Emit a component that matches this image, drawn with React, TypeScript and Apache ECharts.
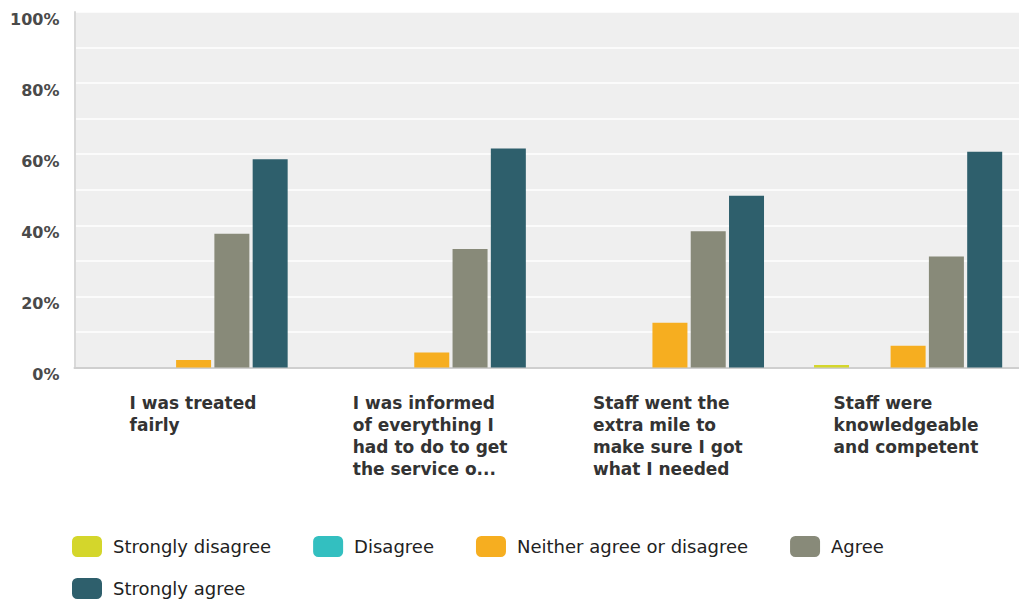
import React, { useEffect, useRef } from "react";
import * as echarts from "echarts";

const categories = [
  "I was treated\nfairly",
  "I was informed\nof everything I\nhad to do to get\nthe service o...",
  "Staff went the\nextra mile to\nmake sure I got\nwhat I needed",
  "Staff were\nknowledgeable\nand competent",
];
const seriesNames = [
  "Strongly disagree",
  "Disagree",
  "Neither agree or disagree",
  "Agree",
  "Strongly agree",
];
const stronglyDisagree = [0, 0, 0, 0.7];
const disagree = [0, 0, 0, 0];
const neither = [2.1, 4.2, 12.6, 6.1];
const agree = [37.6, 33.3, 38.3, 31.2];
const stronglyAgree = [58.6, 61.6, 48.3, 60.7];
const colors = ["#d4d62b", "#33bfc0", "#f6ae20", "#888a79", "#2e5f6c"];
const labelWidths = [128, 158, 154, 149];

export default function App() {
  const ref = useRef<HTMLDivElement>(null);
  useEffect(() => {
    if (!ref.current) return;
    const chart = echarts.init(ref.current, undefined, { renderer: "svg" });
    const values = [stronglyDisagree, disagree, neither, agree, stronglyAgree];
    const rich: Record<string, any> = {};
    labelWidths.forEach((w, i) => {
      rich["c" + i] = {
        width: w,
        align: "left",
        fontFamily: "DejaVu Sans",
        fontWeight: "bold",
        fontSize: 17,
        lineHeight: 22,
        color: "#333",
      };
    });
    const legendText = {
      fontFamily: "DejaVu Sans",
      fontSize: 18,
      color: "#222",
      padding: [0, 0, 0, 6],
    };
    chart.setOption({
      animation: false,
      grid: {
        left: 74.5,
        top: 12,
        width: 952.7,
        height: 355.5,
        show: true,
        backgroundColor: "#efefef",
        borderWidth: 0,
        containLabel: false,
      },
      legend: [
        {
          data: seriesNames.slice(0, 4),
          left: 72,
          top: 536,
          padding: 0,
          orient: "horizontal",
          itemWidth: 30,
          itemHeight: 21,
          itemGap: 42,
          icon: "roundRect",
          textStyle: legendText,
        },
        {
          data: seriesNames.slice(4),
          left: 72,
          top: 578,
          padding: 0,
          itemWidth: 30,
          itemHeight: 21,
          icon: "roundRect",
          textStyle: legendText,
        },
      ],
      xAxis: {
        type: "category",
        data: categories,
        axisTick: { show: false },
        axisLine: { show: true, lineStyle: { color: "#cfcfcf", width: 2 } },
        axisLabel: {
          interval: 0,
          margin: 24,
          formatter: (v: string, idx: number) =>
            v
              .split("\n")
              .map((l) => `{c${idx}|${l}}`)
              .join("\n"),
          rich,
        },
      },
      yAxis: {
        type: "value",
        min: 0,
        max: 100,
        interval: 10,
        axisLine: { show: true, lineStyle: { color: "#d9d9d9", width: 2 } },
        axisTick: { show: false },
        splitLine: { lineStyle: { color: "#ffffff", width: 1.5 } },
        axisLabel: {
          margin: 15,
          fontFamily: "DejaVu Sans",
          fontWeight: "bold",
          fontSize: 16,
          color: "#4a4a4a",
          verticalAlign: "top",
          lineHeight: 14,
          formatter: (v: number) => (v % 20 === 0 ? v + "%" : ""),
        },
      },
      series: seriesNames.map((name, i) => ({
        name,
        type: "bar",
        data: values[i],
        barWidth: 35,
        barGap: "9.4%",
        itemStyle: { color: colors[i] },
      })),
    });
    return () => chart.dispose();
  }, []);
  return (
    <div
      ref={ref}
      style={{ position: "fixed", left: 0, top: 0, width: 1040, height: 599, background: "#fff" }}
    />
  );
}
